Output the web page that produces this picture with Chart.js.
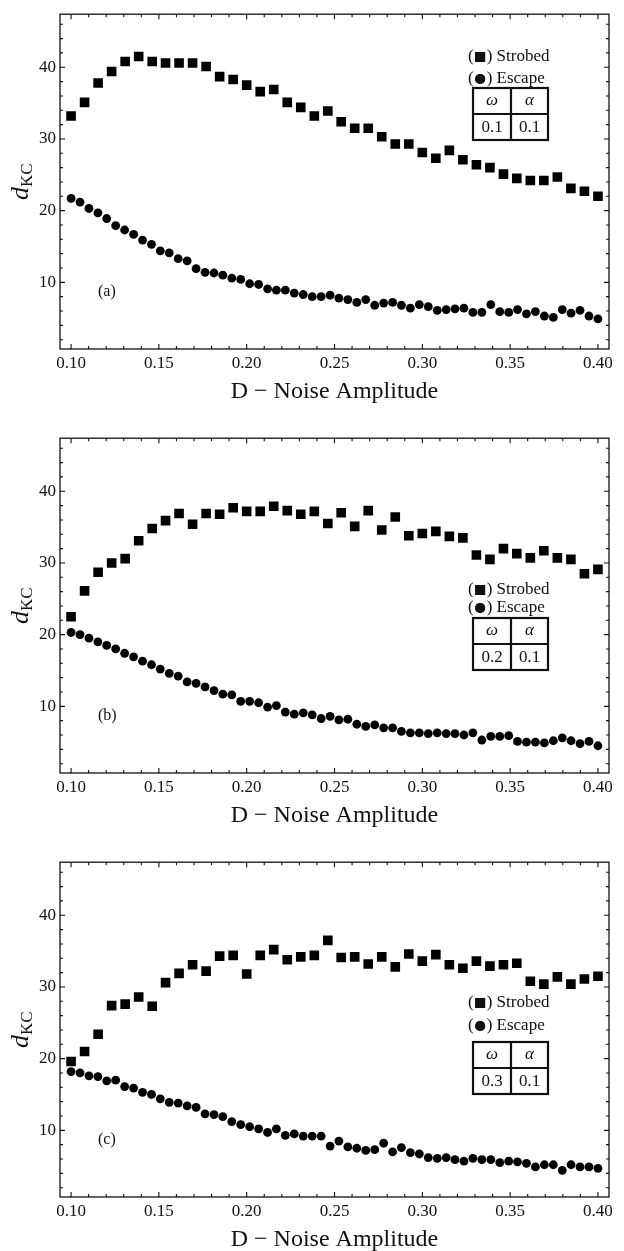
<!DOCTYPE html>
<html>
<head>
<meta charset="utf-8">
<script src="https://cdn.jsdelivr.net/npm/chart.js@4.4.1/dist/chart.umd.min.js"></script>
<style>
  html, body { margin: 0; padding: 0; background: #fff; overflow: hidden; }
  canvas { display: block; }
</style>
</head>
<body>
<canvas id="chartA" width="624" height="424"></canvas>
<canvas id="chartB" width="624" height="424"></canvas>
<canvas id="chartC" width="624" height="424"></canvas>
<script>
// noise amplitude D for the strobed runs (40 points) and escape runs (60 points)
var noiseStrobed = [0.1000, 0.1077, 0.1154, 0.1231, 0.1308, 0.1385, 0.1462, 0.1538, 0.1615, 0.1692,
  0.1769, 0.1846, 0.1923, 0.2000, 0.2077, 0.2154, 0.2231, 0.2308, 0.2385, 0.2462,
  0.2538, 0.2615, 0.2692, 0.2769, 0.2846, 0.2923, 0.3000, 0.3077, 0.3154, 0.3231,
  0.3308, 0.3385, 0.3462, 0.3538, 0.3615, 0.3692, 0.3769, 0.3846, 0.3923, 0.4000];
var noiseEscape = [0.1000, 0.1051, 0.1102, 0.1153, 0.1203, 0.1254, 0.1305, 0.1356, 0.1407, 0.1458,
  0.1508, 0.1559, 0.1610, 0.1661, 0.1712, 0.1763, 0.1814, 0.1864, 0.1915, 0.1966,
  0.2017, 0.2068, 0.2119, 0.2169, 0.2220, 0.2271, 0.2322, 0.2373, 0.2424, 0.2475,
  0.2525, 0.2576, 0.2627, 0.2678, 0.2729, 0.2780, 0.2831, 0.2881, 0.2932, 0.2983,
  0.3034, 0.3085, 0.3136, 0.3186, 0.3237, 0.3288, 0.3339, 0.3390, 0.3441, 0.3492,
  0.3542, 0.3593, 0.3644, 0.3695, 0.3746, 0.3797, 0.3847, 0.3898, 0.3949, 0.4000];

// d_KC values, panel (a)
var strobedA = [33.2, 35.1, 37.8, 39.4, 40.8, 41.5, 40.8, 40.6, 40.6, 40.6,
  40.1, 38.7, 38.3, 37.5, 36.6, 36.9, 35.1, 34.4, 33.2, 33.9,
  32.4, 31.5, 31.5, 30.3, 29.3, 29.3, 28.1, 27.3, 28.4, 27.1,
  26.4, 26.0, 25.1, 24.5, 24.2, 24.2, 24.7, 23.1, 22.7, 22.0];
var escapeA = [21.7, 21.2, 20.3, 19.7, 18.9, 17.9, 17.3, 16.7, 15.9, 15.3,
  14.4, 14.1, 13.3, 13.0, 11.9, 11.4, 11.3, 11.0, 10.6, 10.4,
  9.8, 9.7, 9.1, 8.9, 8.9, 8.5, 8.3, 8.0, 8.0, 8.2,
  7.8, 7.6, 7.2, 7.6, 6.8, 7.1, 7.2, 6.8, 6.4, 6.9,
  6.6, 6.1, 6.2, 6.3, 6.4, 5.8, 5.8, 6.9, 5.9, 5.8,
  6.2, 5.6, 5.9, 5.3, 5.1, 6.2, 5.7, 6.1, 5.3, 4.9];

// panel (b)
var strobedB = [22.5, 26.1, 28.7, 30.0, 30.6, 33.1, 34.8, 35.9, 36.9, 35.4,
  36.9, 36.8, 37.7, 37.2, 37.2, 37.9, 37.3, 36.8, 37.2, 35.5,
  37.0, 35.1, 37.3, 34.6, 36.4, 33.8, 34.1, 34.4, 33.7, 33.5,
  31.1, 30.5, 32.0, 31.3, 30.7, 31.7, 30.7, 30.5, 28.5, 29.1];
var escapeB = [20.3, 20.0, 19.5, 19.0, 18.5, 18.0, 17.4, 16.9, 16.3, 15.8,
  15.2, 14.6, 14.2, 13.4, 13.2, 12.7, 12.2, 11.7, 11.6, 10.7,
  10.7, 10.5, 9.9, 10.1, 9.2, 8.9, 9.1, 8.8, 8.3, 8.6,
  8.1, 8.2, 7.5, 7.2, 7.4, 7.0, 7.0, 6.5, 6.3, 6.3,
  6.2, 6.3, 6.2, 6.2, 6.0, 6.3, 5.3, 5.8, 5.8, 5.9,
  5.1, 5.0, 5.0, 4.9, 5.2, 5.6, 5.2, 4.8, 5.1, 4.5];

// panel (c)
var strobedC = [19.6, 21.0, 23.4, 27.4, 27.6, 28.6, 27.3, 30.6, 31.9, 33.1,
  32.2, 34.3, 34.4, 31.8, 34.4, 35.2, 33.8, 34.2, 34.4, 36.5,
  34.1, 34.2, 33.2, 34.2, 32.8, 34.6, 33.6, 34.5, 33.1, 32.6,
  33.6, 32.9, 33.1, 33.3, 30.8, 30.4, 31.4, 30.4, 31.1, 31.5];
var escapeC = [18.2, 18.0, 17.6, 17.5, 16.9, 17.0, 16.1, 15.9, 15.3, 15.0,
  14.4, 13.9, 13.8, 13.4, 13.2, 12.3, 12.2, 11.9, 11.2, 10.8,
  10.5, 10.2, 9.7, 10.2, 9.3, 9.5, 9.2, 9.2, 9.2, 7.8,
  8.5, 7.7, 7.5, 7.2, 7.3, 8.2, 7.0, 7.6, 6.9, 6.7,
  6.2, 6.1, 6.2, 5.9, 5.7, 6.1, 5.9, 5.9, 5.5, 5.7,
  5.6, 5.4, 4.9, 5.2, 5.2, 4.4, 5.2, 4.9, 4.9, 4.7];

var panelLabels = ["(a)", "(b)", "(c)"];
var omegaValues = ["0.1", "0.2", "0.3"];
var alphaValues = ["0.1", "0.1", "0.1"];
var seriesNames = ["Strobed", "Escape"];

var FONT = "'Liberation Serif', 'Times New Roman', serif";
var INK = "#111";

// where the legend block sits in each panel (y of the two text lines and table top)
var legendSpots = [
  { strobedY: 57, escapeY: 79, tableTop: 88 },
  { strobedY: 166, escapeY: 184, tableTop: 194 },
  { strobedY: 155, escapeY: 178, tableTop: 194 }
];

function toPoints(xs, ys) {
  return xs.map((x, i) => ({ x: x, y: ys[i] }));
}

function isMajor(v, step) {
  return Math.abs(v / step - Math.round(v / step)) < 1e-6;
}

// Mathematica style frame: box, inward ticks on all sides, y title, label, legend box
var framePlugin = {
  id: "frame",
  afterDraw(chart, args, opts) {
    let ctx = chart.ctx;
    let a = chart.chartArea;
    let xs = chart.scales.x;
    let ys = chart.scales.y;
    ctx.save();
    ctx.strokeStyle = INK;
    ctx.lineWidth = 1.3;
    ctx.strokeRect(a.left, a.top, a.right - a.left, a.bottom - a.top);

    ctx.lineWidth = 1.1;
    ctx.beginPath();
    xs.ticks.forEach((t) => {
      let px = xs.getPixelForValue(t.value);
      let len = isMajor(t.value, 0.05) ? 5 : 3;
      ctx.moveTo(px, a.bottom);
      ctx.lineTo(px, a.bottom - len);
      ctx.moveTo(px, a.top);
      ctx.lineTo(px, a.top + len);
    });
    ys.ticks.forEach((t) => {
      let py = ys.getPixelForValue(t.value);
      let len = isMajor(t.value, 10) ? 5 : 3;
      ctx.moveTo(a.left, py);
      ctx.lineTo(a.left + len, py);
      ctx.moveTo(a.right, py);
      ctx.lineTo(a.right - len, py);
    });
    ctx.stroke();

    // y title d_KC
    ctx.fillStyle = INK;
    ctx.save();
    ctx.translate(28, (a.top + a.bottom) / 2);
    ctx.rotate(-Math.PI / 2);
    ctx.textBaseline = "alphabetic";
    ctx.textAlign = "left";
    ctx.font = "italic 26px " + FONT;
    let wd = ctx.measureText("d").width;
    ctx.font = "17px " + FONT;
    let wk = ctx.measureText("KC").width;
    let start = -(wd + wk) / 2;
    ctx.font = "italic 26px " + FONT;
    ctx.fillText("d", start, 0);
    ctx.font = "17px " + FONT;
    ctx.fillText("KC", start + wd, 4);
    ctx.restore();

    // panel label
    ctx.font = "16px " + FONT;
    ctx.textAlign = "left";
    ctx.textBaseline = "middle";
    ctx.fillText(opts.label, 98, 292);

    // legend entries
    let spot = opts.spot;
    let x0 = 468;
    ctx.font = "17px " + FONT;
    let wp = ctx.measureText("(").width;
    [["rect", 7, spot.strobedY, seriesNames[0]], ["circle", 5, spot.escapeY, seriesNames[1]]].forEach((e) => {
      ctx.fillText("(", x0, e[2]);
      Chart.helpers.drawPoint(ctx, { pointStyle: e[0], radius: e[1], borderWidth: 0, rotation: 0 }, x0 + wp + 6.5, e[2]);
      ctx.fill();
      ctx.fillText(") " + e[3], x0 + wp + 13, e[2]);
    });

    // omega / alpha table
    let tl = 473, tr = 548, tm = 511;
    let tt = spot.tableTop, tb = spot.tableTop + 52, tmid = spot.tableTop + 26;
    ctx.lineWidth = 2.2;
    ctx.strokeRect(tl, tt, tr - tl, tb - tt);
    ctx.beginPath();
    ctx.moveTo(tm, tt); ctx.lineTo(tm, tb);
    ctx.moveTo(tl, tmid); ctx.lineTo(tr, tmid);
    ctx.stroke();
    ctx.textAlign = "center";
    ctx.font = "italic 17px " + FONT;
    ctx.fillText("\u03C9", (tl + tm) / 2, (tt + tmid) / 2);
    ctx.fillText("\u03B1", (tm + tr) / 2, (tt + tmid) / 2);
    ctx.font = "17px " + FONT;
    ctx.fillText(opts.omega, (tl + tm) / 2, (tmid + tb) / 2 + 1);
    ctx.fillText(opts.alpha, (tm + tr) / 2, (tmid + tb) / 2 + 1);
    ctx.restore();
  }
};

function makeChart(id, strobed, escape, idx) {
  let ctx = document.getElementById(id).getContext("2d");
  return new Chart(ctx, {
    type: "scatter",
    data: {
      datasets: [
        {
          label: seriesNames[0],
          data: toPoints(noiseStrobed, strobed),
          pointStyle: "rect",
          pointRadius: 6.8,
          pointBorderWidth: 0,
          backgroundColor: "#000",
          borderColor: "#000"
        },
        {
          label: seriesNames[1],
          data: toPoints(noiseEscape, escape),
          pointStyle: "circle",
          pointRadius: 4.4,
          pointBorderWidth: 0,
          backgroundColor: "#000",
          borderColor: "#000"
        }
      ]
    },
    options: {
      responsive: false,
      animation: false,
      events: [],
      layout: { padding: { left: 0, right: 15, top: 10, bottom: 0 } },
      plugins: {
        legend: { display: false },
        tooltip: { enabled: false },
        frame: {
          label: panelLabels[idx],
          omega: omegaValues[idx],
          alpha: alphaValues[idx],
          spot: legendSpots[idx]
        }
      },
      scales: {
        x: {
          type: "linear",
          min: 0.0937,
          max: 0.4063,
          grid: { display: false, drawTicks: false },
          border: { display: false },
          ticks: {
            stepSize: 0.01,
            includeBounds: false,
            autoSkip: false,
            maxRotation: 0,
            padding: 4,
            color: INK,
            font: { family: FONT, size: 17 },
            callback: (v) => (isMajor(v, 0.05) ? v.toFixed(2) : "")
          },
          title: {
            display: true,
            text: "D \u2212 Noise Amplitude",
            color: INK,
            font: { family: FONT, size: 24 },
            padding: { top: 4, bottom: 17.6 }
          },
          afterFit: (s) => { s.height = 75; }
        },
        y: {
          type: "linear",
          min: 0.7,
          max: 47.4,
          grid: { display: false, drawTicks: false },
          border: { display: false },
          ticks: {
            stepSize: 2,
            includeBounds: false,
            autoSkip: false,
            padding: 4,
            color: INK,
            font: { family: FONT, size: 17 },
            callback: (v) => (isMajor(v, 10) ? String(Math.round(v)) : "")
          },
          afterFit: (s) => { s.width = 60; }
        }
      }
    },
    plugins: [framePlugin]
  });
}

makeChart("chartA", strobedA, escapeA, 0);
makeChart("chartB", strobedB, escapeB, 1);
makeChart("chartC", strobedC, escapeC, 2);
</script>
</body>
</html>
